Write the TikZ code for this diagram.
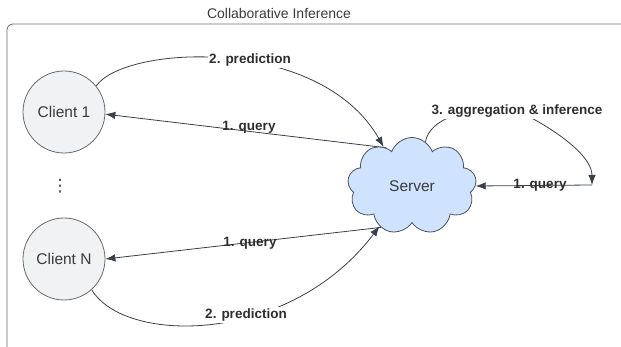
\documentclass[tikz,border=0pt]{standalone}
\usepackage{fontspec}
\setmainfont{Liberation Sans}
\newfontfamily\symfont{DejaVu Sans}
\usetikzlibrary{shapes.symbols,arrows.meta,backgrounds}
\definecolor{linec}{HTML}{3A404A}
\definecolor{framec}{HTML}{6E6E6E}
\definecolor{clientfill}{HTML}{F1F2F4}
\definecolor{clientdraw}{HTML}{6A6A6A}
\definecolor{cloudfill}{HTML}{CFE2FE}
\definecolor{clouddraw}{HTML}{4A5260}
\definecolor{txt}{HTML}{3A3A3A}
\definecolor{lbltxt}{HTML}{2E2E2E}
\begin{document}
\begin{tikzpicture}[x=1pt,y=-1pt,
  client/.style={circle,draw=clientdraw,fill=clientfill,line width=0.8pt,minimum size=82pt,inner sep=0pt,text=txt,font=\fontsize{15.5}{18}\selectfont},
  server/.style={cloud,cloud puffs=9,cloud puff arc=140,cloud ignores aspect,draw=clouddraw,fill=cloudfill,line width=0.8pt,minimum width=129pt,minimum height=97pt,inner sep=0pt,text=txt,font=\fontsize{15.5}{18}\selectfont},
  lbl/.style={font=\bfseries\fontsize{13.5}{16}\selectfont,text=lbltxt,inner sep=1.5pt},
  conn/.style={draw=linec,line width=0.8pt,-{Latex[length=10pt,width=7.5pt]}},
  titlestyle/.style={font=\fontsize{14}{16}\selectfont,text=txt}
]
\useasboundingbox (0,0) rectangle (621,347);
\draw[framec,line width=0.8pt,rounded corners=6pt] (630,24) -- (7,24) -- (7,350);
\node[titlestyle] (title) at (279,13) {Collaborative Inference};

\node[client] (c1) at (64,112) {Client 1};
\node[client] (cN) at (64,259) {Client N};
\node[text=txt,font=\symfont\fontsize{17}{20}\selectfont,inner sep=0pt] (dots) at (60,186) {⋮};
\node[server] (sv) at (412,186) {Server};
\coordinate (q) at (592,185);

\node[lbl,fill=white] (p1) at (250,60) {2. prediction};
\node[lbl,fill=white] (pN) at (246,315) {2. prediction};
\node[lbl,fill=white] (agg) at (517,111) {3. aggregation \& inference};
\node[lbl] (q1) at (249,127) {1. query};
\node[lbl] (qN) at (250,243) {1. query};
\node[lbl] (qs) at (540,185) {1. query};

\begin{scope}[on background layer]
\draw[conn] (c1.39) .. controls (125,45) and (320,35) .. (sv.126);
\draw[conn] (cN.-48) .. controls (125,345) and (290,345) .. (sv.-129);
\draw[conn] (sv.124) -- (c1.-3);
\draw[conn] (sv.-127) -- (cN.east);
\draw[conn] (q) -- (sv.east);
\draw[conn] (sv.73) .. controls (431,110) and (500,100) .. (537,121) .. controls (570,140) and (592,160) .. (q);
\end{scope}
\end{tikzpicture}
\end{document}
